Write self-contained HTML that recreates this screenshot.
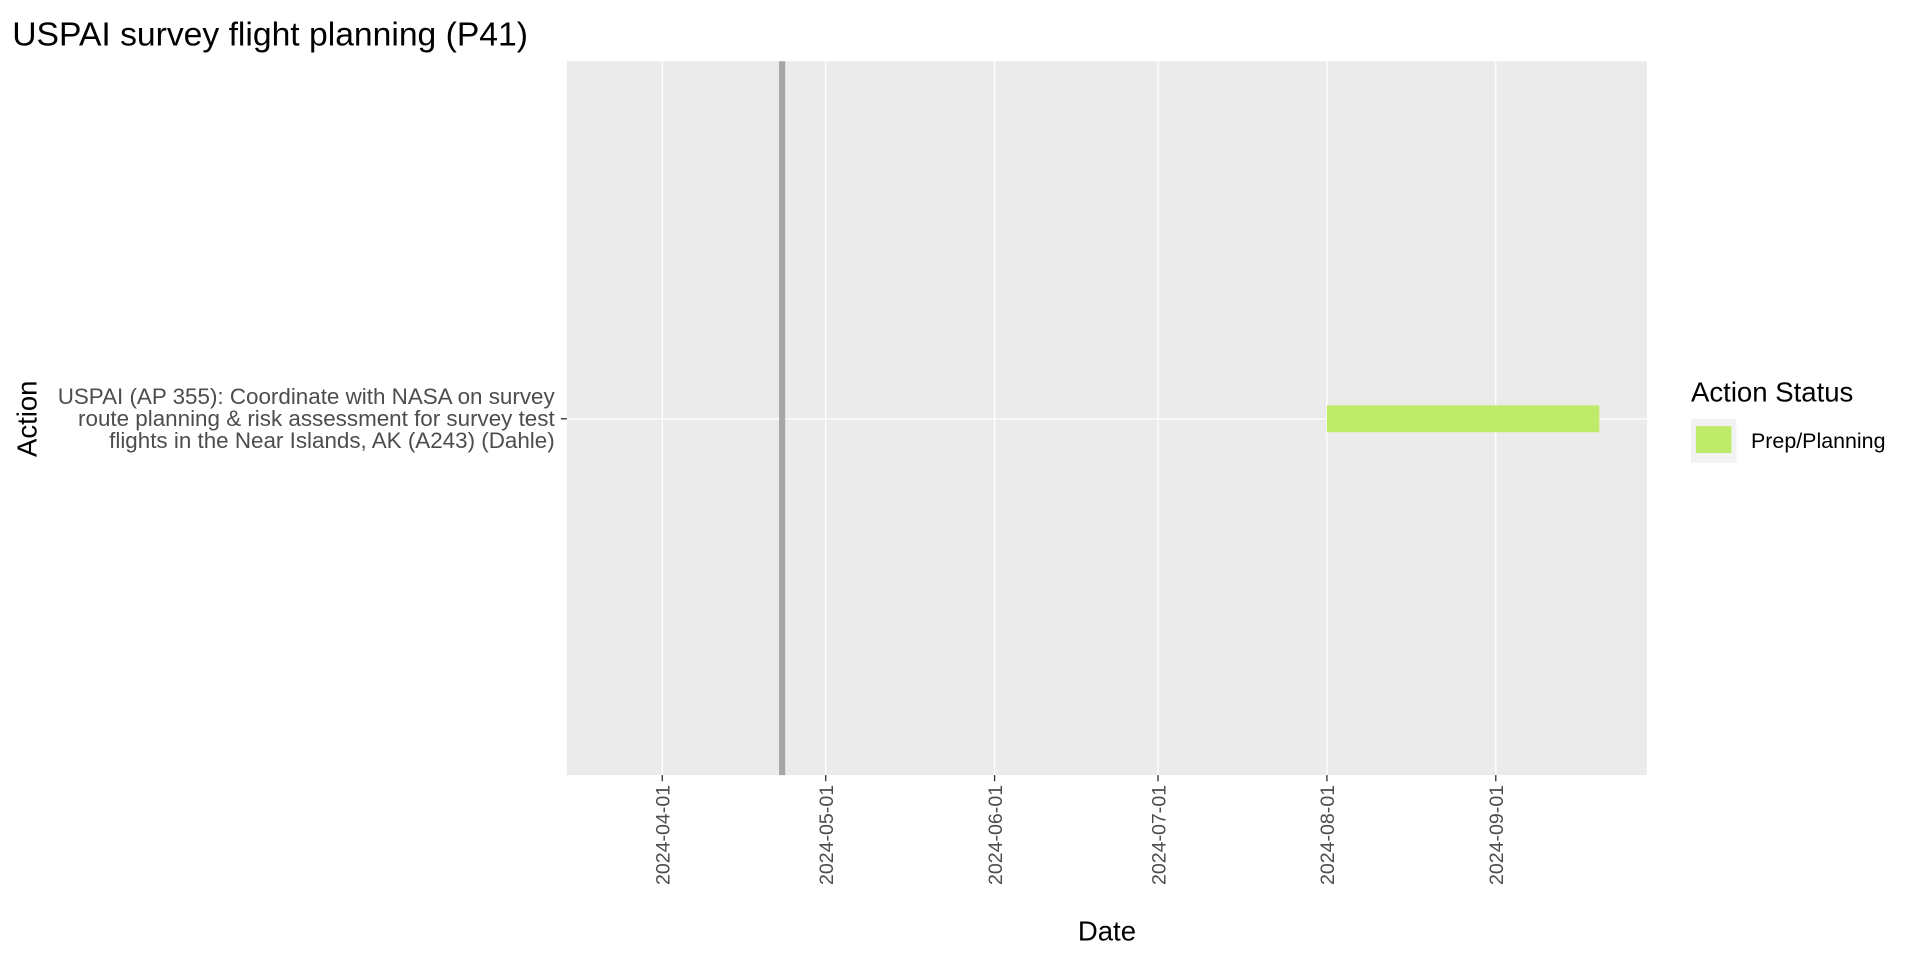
<!DOCTYPE html>
<html><head><meta charset="utf-8"><style>html,body{margin:0;padding:0;background:#fff}svg{display:block}text{font-family:"Liberation Sans",Arial,sans-serif}</style></head>
<body>
<svg width="1920" height="960" viewBox="0 0 1568 784" xmlns="http://www.w3.org/2000/svg">
<text x="10" y="37" font-size="27.5" fill="#000">USPAI survey flight planning (P41)</text>
<rect x="463" y="50" width="882" height="583" fill="#ebebeb"/>
<g id="grid"></g>
<g id="marks"></g>
<g id="xaxis"></g>
<g>
<line x1="458" x2="463" y1="342" y2="342" stroke="#333" stroke-width="1.1"/>
<text text-anchor="end" font-size="18.3" fill="#4d4d4d"><tspan x="453" y="330">USPAI (AP 355): Coordinate with NASA on survey</tspan><tspan x="453" y="348">route planning &amp; risk assessment for survey test</tspan><tspan x="453" y="366">flights in the Near Islands, AK (A243) (Dahle)</tspan></text>
</g>
<text transform="translate(30,342) rotate(-90)" text-anchor="middle" font-size="22.5">Action</text>
<text x="904" y="768" text-anchor="middle" font-size="22.5">Date</text>
<g>
<text x="1381" y="328" font-size="22.5">Action Status</text>
<rect x="1381" y="342" width="37" height="36" fill="#f2f2f2"/>
<rect x="1385" y="348" width="29" height="22" fill="#bfeb6a"/>
<text x="1430" y="366" font-size="17.5">Prep/Planning</text>
</g>
</svg>
<script>
const tickLabels=["2024-04-01","2024-05-01","2024-06-01","2024-07-01","2024-08-01","2024-09-01"];
const taskStarts=["2024-08-01"];
const taskEnds=["2024-09-20"];
const taskColors=["#bfeb6a"];
const todayLine=["2024-04-23"];
const NS="http://www.w3.org/2000/svg";
const d0=Date.parse("2024-03-14T12:00:00Z"),d1=Date.parse("2024-09-28T18:00:00Z");
const px0=463,px1=1345;
function xs(s){return px0+(Date.parse(s+"T00:00:00Z")-d0)/(d1-d0)*(px1-px0);}
function mk(tag,attrs,parent){const e=document.createElementNS(NS,tag);for(const k in attrs)e.setAttribute(k,attrs[k]);parent.appendChild(e);return e;}
const grid=document.getElementById('grid'),marks=document.getElementById('marks'),xa=document.getElementById('xaxis');
const hl=mk('line',{x1:px0,x2:px1,y1:342,y2:342,stroke:'#fff','stroke-width':1.1},grid);


tickLabels.forEach(t=>{const x=xs(t);
const g=mk('line',{x1:x,x2:x,y1:50,y2:633,stroke:'#fff','stroke-width':1.1},grid);


const tk=mk('line',{x1:x,x2:x,y1:633,y2:638,stroke:'#333','stroke-width':1.1},xa);


const tx=mk('text',{transform:`translate(${x+6},641) rotate(-90)`,'text-anchor':'end','font-size':16,fill:'#4d4d4d'},xa);
tx.textContent=t;


});
todayLine.forEach(t=>{const x=xs(t);
const l=mk('line',{x1:x,x2:x,y1:50,y2:633,stroke:'#a6a6a6','stroke-width':5},marks);


});
taskStarts.forEach((s,i)=>{const a=xs(s),b=xs(taskEnds[i]);
const r=mk('rect',{x:a,y:331,width:b-a,height:22,fill:taskColors[i]},marks);


});
</script>
</body></html>
